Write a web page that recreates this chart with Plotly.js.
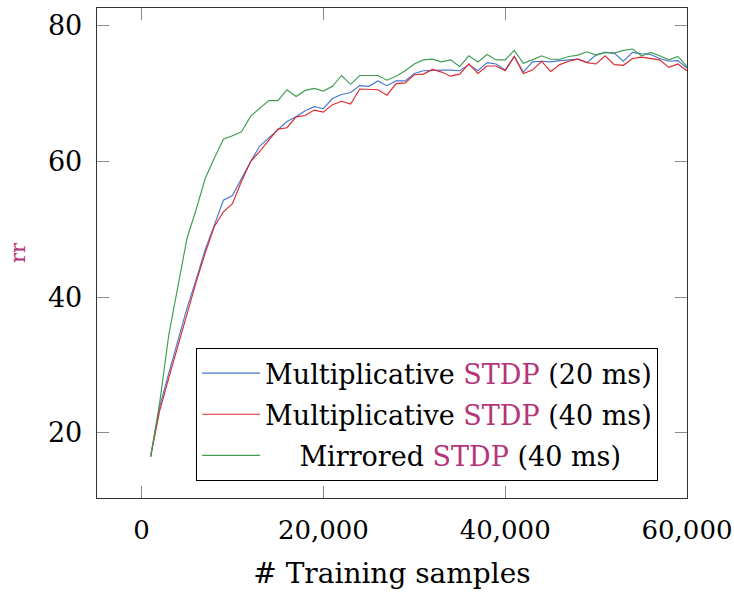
<!DOCTYPE html>
<html>
<head>
<meta charset="utf-8">
<script src="https://cdn.plot.ly/plotly-3.0.1.min.js"></script>
<style>html,body{margin:0;padding:0;background:#fff;}#chart{width:734px;height:593px;}</style>
</head>
<body>
<div id="chart"></div>
<script>
// Training samples (x) — every 1000 samples
const samples = [];
for (let k = 1; k <= 60; k++) samples.push(k * 1000);

const multi20 = [16.5,23.9,28.8,33.7,38.4,42.6,47.0,50.6,54.3,55.0,
  57.6,60.0,62.3,63.5,64.8,65.9,66.6,67.5,68.1,67.8,
  69.3,69.9,70.2,71.2,71.1,71.9,71.2,71.9,71.9,73.0,
  73.4,73.5,73.5,73.5,73.4,74.3,73.4,74.6,74.4,73.5,
  75.5,73.2,74.7,74.8,74.7,74.9,75.0,75.1,74.6,75.7,
  76.1,76.0,74.8,76.1,75.9,75.8,75.2,74.8,74.9,73.8];

const multi40 = [16.5,23.3,28.1,32.9,37.7,42.2,46.5,50.4,52.6,53.8,
  57.1,60.0,61.5,63.2,64.8,65.0,66.6,66.8,67.6,67.3,
  68.4,68.9,68.5,70.7,70.7,70.6,69.8,71.5,71.6,72.8,
  72.9,73.6,73.2,72.6,72.9,74.4,73.0,74.1,74.1,73.4,
  75.5,73.0,73.5,74.8,73.3,74.3,74.8,75.1,74.6,74.4,
  75.6,74.3,74.2,75.2,75.4,75.2,75.0,73.9,74.4,73.4];

const mirrored40 = [16.5,24.5,34.5,41.5,48.7,52.9,57.5,60.5,63.3,63.8,
  64.4,66.7,67.9,69.0,69.0,70.6,69.6,70.5,70.8,70.4,
  71.1,72.7,71.4,72.7,72.7,72.7,72.0,72.6,73.4,74.4,
  75.0,75.1,74.7,75.0,74.0,75.6,74.7,75.8,75.0,75.0,
  76.4,74.5,75.0,75.6,75.1,75.1,75.5,75.7,76.2,75.7,
  76.1,76.0,76.4,76.6,75.6,76.1,75.6,75.0,75.5,74.0];

const xTickVals = [0, 20000, 40000, 60000];
const xTickText = ['0', '20,000', '40,000', '60,000'];
const yTickVals = [20, 40, 60, 80];

const MAG = '#b5347a';
const stdp = '<span style="color:' + MAG + '">STDP</span>';
const names = [
  'Multiplicative ' + stdp + ' (20 ms)',
  'Multiplicative ' + stdp + ' (40 ms)',
  '&nbsp;&nbsp;&nbsp;&nbsp;Mirrored ' + stdp + ' (40 ms)'
];
const colors = ['#4677cf', '#dd2a30', '#3f9d52'];
const series = [multi20, multi40, mirrored40];

const FONT = 'DejaVu Serif, serif';
const traces = series.map((ys, i) => ({
  x: samples, y: ys, type: 'scatter', mode: 'lines', name: names[i],
  legendgroup: 'g' + i,
  line: {color: colors[i], width: 1.15}
}));

const layout = {
  width: 734, height: 593,
  margin: {l: 97, r: 47, t: 8, b: 95},
  paper_bgcolor: '#fff', plot_bgcolor: '#fff',
  font: {family: FONT, color: '#000', size: 27},
  showlegend: true,
  legend: {
    x: 0.168, y: 0.306, xanchor: 'left', yanchor: 'top',
    bgcolor: '#fff', bordercolor: '#000', borderwidth: 1,
    font: {family: FONT, size: 27, color: '#000'},
    itemwidth: 58, tracegroupgap: 3
  },
  xaxis: {
    range: [-4900, 60000], tickvals: xTickVals, ticktext: xTickText,
    ticks: 'inside', ticklen: 12, tickcolor: '#8a8a8a', tickwidth: 1,
    showline: true, linecolor: '#333', linewidth: 1.3, mirror: 'allticks',
    showgrid: false, zeroline: false, ticklabelstandoff: 8,
    ticklabeloverflow: 'allow',
    tickfont: {family: FONT, size: 26},
    title: {text: '# Training samples', font: {family: FONT, size: 28}, standoff: 20}
  },
  yaxis: {
    range: [10.4, 82.65], tickvals: yTickVals,
    ticks: 'inside', ticklen: 12, tickcolor: '#8a8a8a', tickwidth: 1,
    showline: true, linecolor: '#333', linewidth: 1.3, mirror: 'allticks',
    showgrid: false, zeroline: false, ticklabelstandoff: 8,
    tickfont: {family: FONT, size: 27},
    title: {text: 'rr', font: {family: FONT, size: 21, color: MAG}, standoff: 16}
  }
};

Plotly.newPlot('chart', traces, layout, {displayModeBar: false, staticPlot: true});
</script>
</body>
</html>
